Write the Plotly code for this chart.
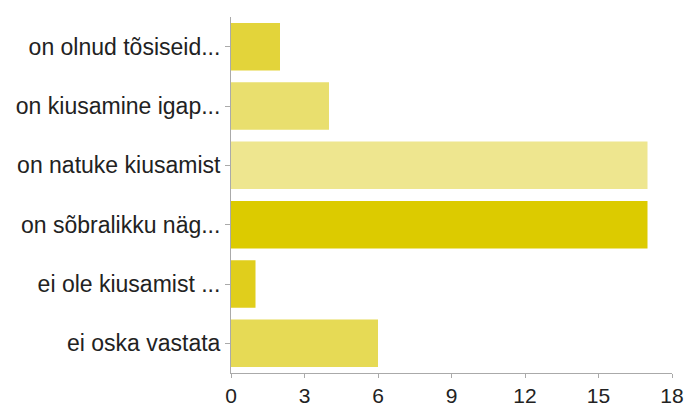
import plotly.graph_objects as go

categories = [
    "on olnud tõsiseid...",
    "on kiusamine igap...",
    "on natuke kiusamist",
    "on sõbralikku näg...",
    "ei ole kiusamist ...",
    "ei oska vastata",
]
values = [2, 4, 17, 17, 1, 6]
colors = ["#E3D43A", "#E9DF6E", "#EEE68F", "#DCCB00", "#E0CE1C", "#E6DA55"]
x_ticks = [0, 3, 6, 9, 12, 15, 18]

fig = go.Figure(
    go.Bar(
        x=values,
        y=categories,
        orientation="h",
        marker=dict(color=colors, line=dict(width=0)),
        hoverinfo="x+y",
    )
)

fig.update_layout(
    width=688,
    height=408,
    margin=dict(l=231, r=16, t=17, b=35, autoexpand=False),
    paper_bgcolor="white",
    plot_bgcolor="white",
    bargap=0.2,
    showlegend=False,
    font=dict(family="Liberation Sans, Arial, sans-serif", size=21, color="#222222"),
)

fig.update_xaxes(
    range=[0, 18],
    tickvals=x_ticks,
    ticktext=[str(v) for v in x_ticks],
    showgrid=False,
    zeroline=False,
    showline=True,
    linecolor="#AAAAAA",
    linewidth=1,
    ticks="outside",
    ticklen=4,
    tickcolor="#AAAAAA",
    tickfont=dict(size=21, color="#222222"),
    automargin=False,
)

fig.update_yaxes(
    categoryorder="array",
    categoryarray=categories[::-1],
    showgrid=False,
    zeroline=False,
    showline=True,
    linecolor="#AAAAAA",
    linewidth=1,
    ticks="outside",
    ticklen=5,
    tickcolor="#AAAAAA",
    tickfont=dict(size=23, color="#222222"),
    automargin=False,
)

fig.write_html(
    "out.html",
    config={"displayModeBar": False},
    post_script="document.body.style.margin='0';document.body.style.overflow='hidden';",
)
